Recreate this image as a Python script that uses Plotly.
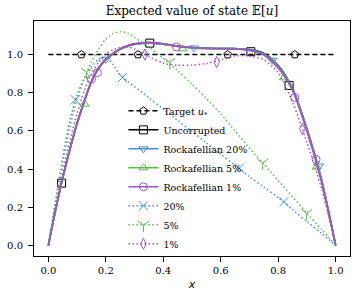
import plotly.graph_objects as go

# ---------------- data ----------------
x_grid = [0, 0.025, 0.05, 0.075, 0.1, 0.125, 0.15, 0.175, 0.2, 0.225, 0.25, 0.275,
          0.3, 0.35, 0.4, 0.45, 0.5, 0.55, 0.6, 0.65, 0.7, 0.75, 0.8, 0.85, 0.9, 0.95, 1.0]

target_x = [0.0, 1.0]
target_y = [1.0, 1.0]

uncorrupted_y = [0, 0.185, 0.355, 0.505, 0.64, 0.755, 0.86, 0.93, 0.975, 1.006, 1.03, 1.046,
                 1.056, 1.063, 1.057, 1.045, 1.037, 1.033, 1.032, 1.031, 1.026, 1.006, 0.942, 0.822, 0.61, 0.345, 0]
rock20_y = [0, 0.185, 0.355, 0.505, 0.64, 0.755, 0.86, 0.93, 0.975, 1.005, 1.028, 1.044,
            1.054, 1.06, 1.055, 1.044, 1.037, 1.033, 1.032, 1.031, 1.025, 1.005, 0.94, 0.82, 0.612, 0.355, 0]
rock5_y = [0, 0.182, 0.35, 0.5, 0.635, 0.75, 0.855, 0.926, 0.972, 1.003, 1.027, 1.043,
           1.053, 1.06, 1.054, 1.042, 1.035, 1.031, 1.03, 1.029, 1.022, 1.0, 0.935, 0.816, 0.605, 0.345, 0]
rock1_y = [0, 0.185, 0.355, 0.505, 0.64, 0.755, 0.86, 0.93, 0.975, 1.006, 1.03, 1.045,
           1.055, 1.062, 1.055, 1.043, 1.036, 1.032, 1.031, 1.03, 1.022, 0.998, 0.93, 0.813, 0.6, 0.34, 0]
noisy20_y = [0, 0.235, 0.46, 0.655, 0.79, 0.875, 0.935, 0.975, 0.985, 0.948, 0.893, 0.861,
             0.832, 0.773, 0.714, 0.655, 0.596, 0.537, 0.478, 0.419, 0.36, 0.305, 0.25, 0.188, 0.125, 0.063, 0]
noisy5_y = [0, 0.22, 0.43, 0.62, 0.765, 0.875, 0.96, 1.03, 1.08, 1.11, 1.12, 1.113,
            1.09, 1.038, 0.98, 0.915, 0.845, 0.77, 0.69, 0.6, 0.51, 0.425, 0.34, 0.255, 0.168, 0.085, 0]
noisy1_y = [0, 0.2, 0.385, 0.55, 0.69, 0.81, 0.9, 0.96, 1.003, 1.025, 1.037, 1.04,
            1.03, 0.99, 0.955, 0.944, 0.945, 0.953, 0.972, 0.993, 0.992, 0.972, 0.905, 0.75, 0.54, 0.3, 0]

# marker positions
target_mx = [0.115, 0.312, 0.624, 0.858]
target_my = [1.0, 1.0, 1.0, 1.0]
uncorrupted_mx = [0.046, 0.353, 0.705, 0.838]
uncorrupted_my = [0.326, 1.06, 1.015, 0.838]
rock20_mx = [0.2, 0.507, 0.78, 0.942]
rock20_my = [0.975, 1.035, 0.97, 0.416]
rock5_mx = [0.126, 0.467, 0.82, 0.934]
rock5_my = [0.74, 1.03, 0.878, 0.41]
rock1_mx = [0.15, 0.171, 0.446, 0.858, 0.932]
rock1_my = [0.872, 0.905, 1.04, 0.775, 0.45]
noisy20_mx = [0.094, 0.258, 0.664, 0.82]
noisy20_my = [0.763, 0.88, 0.404, 0.229]
noisy5_mx = [0.133, 0.423, 0.746, 0.899]
noisy5_my = [0.909, 0.961, 0.433, 0.169]
noisy1_mx = [0.336, 0.586, 0.884]
noisy1_my = [1.0, 0.961, 0.61]

x_ticks = [0.0, 0.2, 0.4, 0.6, 0.8, 1.0]
y_ticks = [0.0, 0.2, 0.4, 0.6, 0.8, 1.0]

# ---------------- styles ----------------
BLUE = "#4a8fd2"
GREEN = "#5cb84f"
PURPLE = "#9e57bb"
FONT = "DejaVu Serif"
DOT = "1.5px,2.5px"
DASH = "5px,3px"

series = [
    ("Target <i>u</i><sub>*</sub>", target_x, target_y, target_mx, target_my, "black", DASH, 1.5, "pentagon-open"),
    ("Uncorrupted", x_grid, uncorrupted_y, uncorrupted_mx, uncorrupted_my, "black", "solid", 1.6, "square-open"),
    ("Rockafellian 20%", x_grid, rock20_y, rock20_mx, rock20_my, BLUE, "solid", 1.6, "triangle-down-open"),
    ("Rockafellian 5%", x_grid, rock5_y, rock5_mx, rock5_my, GREEN, "solid", 1.6, "triangle-up-open"),
    ("Rockafellian 1%", x_grid, rock1_y, rock1_mx, rock1_my, PURPLE, "solid", 1.8, "circle-open"),
    ("20%", x_grid, noisy20_y, noisy20_mx, noisy20_my, BLUE, DOT, 1.5, "x-thin-open"),
    ("5%", x_grid, noisy5_y, noisy5_mx, noisy5_my, GREEN, DOT, 1.5, "y-down-open"),
    ("1%", x_grid, noisy1_y, noisy1_mx, noisy1_my, PURPLE, DOT, 1.5, "diamond-tall-open"),
]

fig = go.Figure()
for name, xs, ys, mx, my, color, dash, lw, sym in series:
    msize = 9 if sym in ("x-thin-open", "y-down-open") else 8
    fig.add_trace(go.Scatter(
        x=xs, y=ys, mode="lines", showlegend=False, hoverinfo="skip",
        line=dict(color=color, dash=dash, width=lw, shape="spline", smoothing=0.8),
    ))
    fig.add_trace(go.Scatter(
        x=mx, y=my, mode="markers", showlegend=False,
        marker=dict(symbol=sym, size=msize, color=color, line=dict(color=color, width=1)),
    ))
    fig.add_trace(go.Scatter(
        x=[None], y=[None], mode="lines+markers", name=name,
        line=dict(color=color, dash=dash, width=min(lw, 1.5)),
        marker=dict(symbol=sym, size=msize, color=color, line=dict(color=color, width=1)),
    ))

axis_common = dict(
    showline=True, linecolor="black", linewidth=1, mirror=True,
    ticks="outside", ticklen=5, tickwidth=1, tickcolor="black",
    showgrid=False, zeroline=False, automargin=False,
    tickfont=dict(family=FONT, size=10, color="black"),
    tickformat=".1f",
)

fig.update_layout(
    width=357, height=299,
    margin=dict(l=34, r=7, t=21, b=43, autoexpand=False),
    paper_bgcolor="white", plot_bgcolor="white",
    hovermode=False,
    title=dict(text="Expected value of state 𝔼[<i>u</i>]", x=0.5375, xanchor="center",
               yref="container", y=0.977, yanchor="top",
               font=dict(family=FONT, size=12, color="black")),
    xaxis=dict(range=[-0.05, 1.05], tickvals=x_ticks,
               title=dict(text="<i>x</i>", font=dict(family="DejaVu Sans", size=11, color="black"), standoff=5),
               **axis_common),
    yaxis=dict(range=[-0.056, 1.176], tickvals=y_ticks, ticklabelstandoff=3, **axis_common),
    legend=dict(x=0.283, xanchor="left", y=-0.01, yanchor="bottom",
                bgcolor="rgba(0,0,0,0)", borderwidth=0,
                font=dict(family=FONT, size=9.5, color="black"),
                itemwidth=30, tracegroupgap=0, maxheight=1),
    showlegend=True,
)

fig.write_html("out.html", config={"staticPlot": True, "displayModeBar": False},
               post_script="document.body.style.margin='0px';document.body.style.overflow='hidden';")
